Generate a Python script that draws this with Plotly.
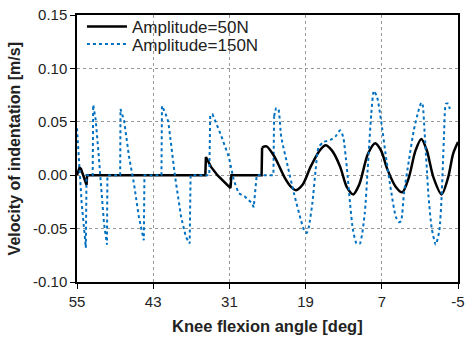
import plotly.graph_objects as go

# Amplitude = 150N (dotted blue)
angle_150 = [55.00, 54.54, 54.27, 53.87, 53.61, 53.50, 52.53, 52.45, 52.06, 51.60, 51.18, 50.75,
             50.28, 50.21, 48.20, 48.15, 47.58, 46.80, 46.03, 45.26, 44.48, 44.38, 41.70, 41.62,
             41.08, 40.62, 40.00, 39.54, 38.61, 37.84, 37.26, 37.11, 34.17, 34.02, 33.66, 32.42,
             31.08, 30.30, 29.53, 28.56, 27.47, 27.17, 26.70, 24.07, 23.96, 23.61, 23.30, 22.84,
             21.80, 20.83, 19.74, 19.12, 18.82, 18.51, 17.93, 17.42, 16.96, 16.19, 15.10, 14.33,
             13.56, 13.09, 12.52, 12.01, 11.55, 10.97, 10.46, 9.69, 9.23, 8.65, 8.25, 7.73, 7.11,
             6.34, 5.56, 4.79, 4.28, 3.97, 3.51, 2.73, 1.96, 1.19, 0.77, 0.57, 0.26, -0.05, -0.36,
             -0.87, -1.49, -2.06, -2.42, -2.79, -3.10, -3.45, -3.81]
vel_150 = [0.044, 0.000, -0.026, -0.051, -0.068, 0.000, 0.000, 0.066, 0.052, 0.020, -0.015, -0.045,
           -0.065, 0.000, 0.000, 0.062, 0.051, 0.017, -0.008, -0.039, -0.061, 0.000, 0.000, 0.065,
           0.058, 0.050, 0.020, -0.002, -0.039, -0.058, -0.064, 0.000, 0.000, 0.056, 0.057, 0.039,
           0.017, -0.005, -0.017, -0.020, -0.026, -0.030, 0.000, 0.000, 0.055, 0.063, 0.062, 0.036,
           0.008, -0.017, -0.042, -0.053, -0.054, -0.049, -0.026, 0.005, 0.026, 0.031, 0.033, 0.036,
           0.042, 0.036, 0.008, -0.026, -0.051, -0.064, -0.064, -0.036, 0.005, 0.058, 0.079, 0.073, 0.051,
           0.017, -0.014, -0.039, -0.044, -0.043, -0.017, 0.014, 0.042, 0.061, 0.068, 0.066, 0.040, 0.010, -0.020,
           -0.050, -0.065, -0.052, -0.020, 0.036, 0.067, 0.067, 0.059]

# Amplitude = 50N (solid black)
angle_50 = [55.00, 54.61, 54.38, 54.03, 53.50, 53.41, 34.79, 34.70, 33.92, 32.89, 31.85, 30.83,
            30.68, 25.93, 25.85, 25.15, 23.87, 22.32, 21.29, 20.52, 19.48, 18.20, 16.91, 15.88,
            14.84, 13.56, 12.52, 11.50, 10.57, 10.20, 9.18, 8.04, 7.11, 6.09, 4.79, 3.77, 2.73,
            1.70, 0.77, -0.10, -1.13, -2.42, -3.45, -4.23, -5.00]
vel_50 = [0.000, 0.007, 0.006, 0.000, -0.009, 0.000, 0.000, 0.017, 0.008, 0.000, -0.006, -0.012,
          0.000, 0.000, 0.026, 0.027, 0.017, -0.002, -0.011, -0.014, -0.009, 0.008, 0.022, 0.028,
          0.023, 0.008, -0.011, -0.018, -0.009, -0.002, 0.020, 0.030, 0.023, 0.005, -0.011, -0.016, -0.002,
          0.023, 0.034, 0.023, -0.002, -0.018, -0.002, 0.020, 0.031]

x_ticks = [55, 43, 31, 19, 7, -5]
y_ticks = [-0.10, -0.05, 0.00, 0.05, 0.10, 0.15]

# split index where the smooth oscillating part starts
s50 = 14
s150 = 44

black = dict(color="black", width=2.5)
blue = dict(color="#0070C0", width=2, dash="dot")

fig = go.Figure()
fig.add_trace(go.Scatter(x=angle_50[:s50 + 1], y=vel_50[:s50 + 1], mode="lines", name="Amplitude=50N",
                         legendgroup="a", legend="legend", line=black))
fig.add_trace(go.Scatter(x=angle_150[:s150 + 1], y=vel_150[:s150 + 1], mode="lines", name="Amplitude=150N",
                         legendgroup="b", legend="legend2", line=blue))
fig.add_trace(go.Scatter(x=angle_50[s50:], y=vel_50[s50:], mode="lines", showlegend=False,
                         legendgroup="a", line=dict(shape="spline", smoothing=0.8, **black)))
fig.add_trace(go.Scatter(x=angle_150[s150:], y=vel_150[s150:], mode="lines", showlegend=False,
                         legendgroup="b", line=dict(shape="spline", smoothing=0.6, **blue)))

font = "Arial, Liberation Sans, sans-serif"
leg_common = dict(x=0.013, xanchor="left", yanchor="middle", bgcolor="rgba(0,0,0,0)",
                  font=dict(size=17, color="#222"), itemwidth=40)
fig.update_layout(
    width=471, height=338,
    margin=dict(l=77, r=6, t=14, b=56),
    paper_bgcolor="white", plot_bgcolor="white",
    font=dict(family=font, size=15, color="#222"),
    showlegend=True,
    legend=dict(y=0.955, **leg_common),
    legend2=dict(y=0.890, **leg_common),
    xaxis=dict(range=[55, -5], tickmode="array", tickvals=x_ticks, ticktext=[str(v) for v in x_ticks],
               showgrid=True, gridcolor="#999", griddash="dot", gridwidth=1,
               showline=True, linecolor="black", linewidth=1.5, mirror=True,
               ticks="outside", ticklen=5, tickcolor="black", zeroline=False),
    yaxis=dict(range=[-0.10, 0.15], tickmode="array", tickvals=y_ticks,
               ticktext=[f"{v:.2f}" for v in y_ticks],
               showgrid=True, gridcolor="#999", griddash="dot", gridwidth=1,
               showline=True, linecolor="black", linewidth=1.5, mirror=True,
               ticks="outside", ticklen=5, tickcolor="black", zeroline=False),
    annotations=[
        dict(text="<b>Knee flexion angle [deg]</b>", xref="paper", yref="paper", x=0.5, y=-0.165,
             xanchor="center", yanchor="middle", showarrow=False, font=dict(size=16.5, color="#222")),
        dict(text="<b>Velocity of indentation [m/s]</b>", xref="paper", yref="paper", x=-0.163, y=0.5,
             xanchor="center", yanchor="middle", showarrow=False, textangle=-90,
             font=dict(size=16, color="#222")),
    ],
)

fig.write_html("out.html")
